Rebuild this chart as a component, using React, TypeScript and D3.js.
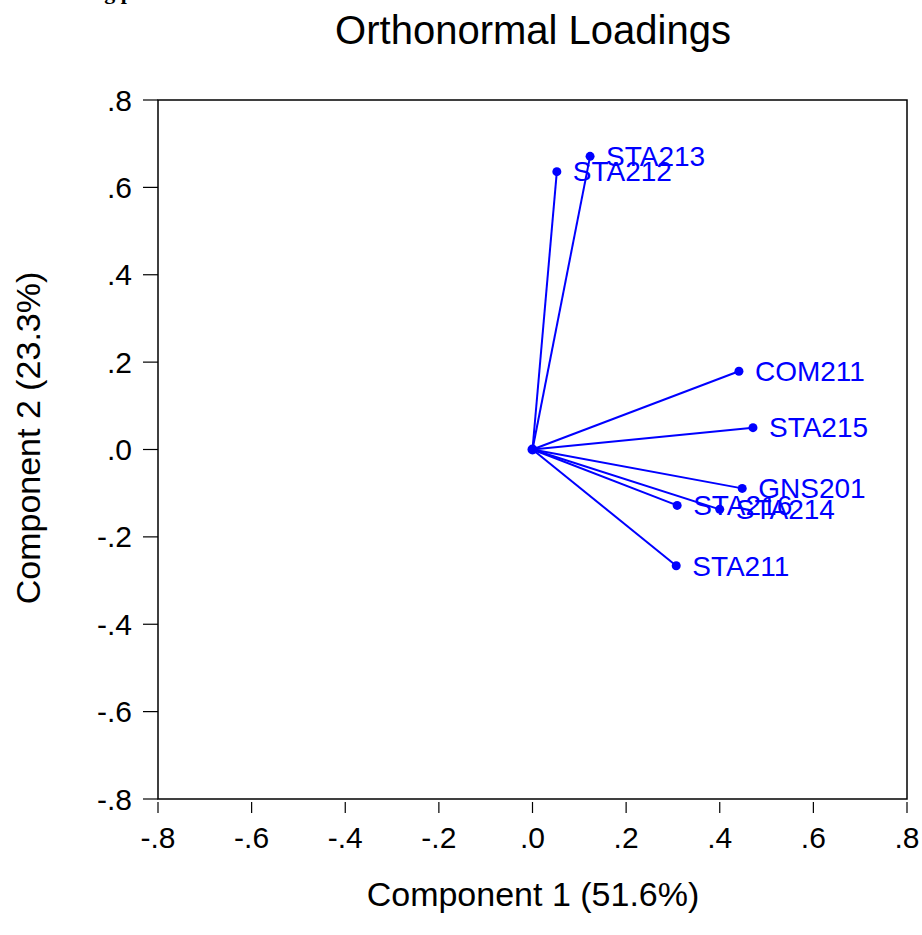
import React from 'react';
import * as d3 from 'd3';

const labels = ['STA211', 'STA212', 'STA213', 'STA214', 'STA215', 'STA216', 'COM211', 'GNS201'];
const comp1 = [0.307, 0.052, 0.123, 0.400, 0.471, 0.309, 0.441, 0.448];
const comp2 = [-0.266, 0.636, 0.671, -0.137, 0.050, -0.128, 0.179, -0.089];
const tickValues = [-0.8, -0.6, -0.4, -0.2, 0, 0.2, 0.4, 0.6, 0.8];
const tickLabels = ['-.8', '-.6', '-.4', '-.2', '.0', '.2', '.4', '.6', '.8'];

const W = 922;
const H = 935;
const left = 158, right = 907, top = 100, bottom = 799;
const blue = '#0000ff';
const font = '"Liberation Sans", Arial, sans-serif';

export default function App() {
  const x = d3.scaleLinear().domain([-0.8, 0.8]).range([left, right]);
  const y = d3.scaleLinear().domain([-0.8, 0.8]).range([bottom, top]);

  return (
    <svg width={W} height={H} style={{ position: 'absolute', left: 0, top: 0, background: '#fff' }}>
      <rect width={W} height={H} fill="#fff" />
      {/* clipped caption from the page above */}
      <text x={92} y={-1} fontFamily="'Liberation Serif', serif" fontWeight="bold" fontSize={22}>ng p</text>

      <text x={533} y={44} textAnchor="middle" fontFamily={font} fontSize={40}>Orthonormal Loadings</text>

      {/* frame */}
      <rect x={left} y={top} width={right - left} height={bottom - top} fill="none" stroke="#000" strokeWidth={1.5} />

      {/* y axis ticks */}
      {tickValues.map((v, i) => (
        <g key={'y' + i}>
          <line x1={left - 15} x2={left} y1={y(v)} y2={y(v)} stroke="#000" strokeWidth={1.2} />
          <text x={132} y={y(v)} dy="0.35em" textAnchor="end" fontFamily={font} fontSize={30}>{tickLabels[i]}</text>
        </g>
      ))}
      {/* x axis ticks */}
      {tickValues.map((v, i) => (
        <g key={'x' + i}>
          <line x1={x(v)} x2={x(v)} y1={bottom + 3} y2={bottom + 14} stroke="#000" strokeWidth={1.2} />
          <text x={x(v)} y={848} textAnchor="middle" fontFamily={font} fontSize={30}>{tickLabels[i]}</text>
        </g>
      ))}

      <text x={533} y={906} textAnchor="middle" fontFamily={font} fontSize={34}>Component 1 (51.6%)</text>
      <text transform="translate(40,438) rotate(-90)" textAnchor="middle" fontFamily={font} fontSize={34}>Component 2 (23.3%)</text>

      {/* loading vectors */}
      {labels.map((l, i) => (
        <line key={'v' + l} x1={x(0)} y1={y(0)} x2={x(comp1[i])} y2={y(comp2[i])} stroke={blue} strokeWidth={2} />
      ))}
      <circle cx={x(0)} cy={y(0)} r={5} fill={blue} />
      {labels.map((l, i) => (
        <g key={'p' + l}>
          <circle cx={x(comp1[i])} cy={y(comp2[i])} r={4.5} fill={blue} />
          <text x={x(comp1[i]) + 16} y={y(comp2[i])} dy="0.35em" fontFamily={font} fontSize={28} fill={blue}>{l}</text>
        </g>
      ))}
    </svg>
  );
}
